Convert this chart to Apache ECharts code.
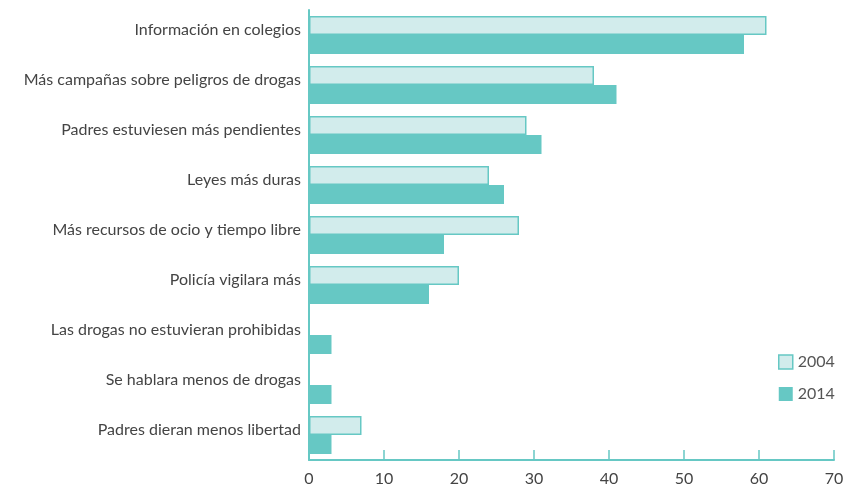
<!DOCTYPE html>
<html>
<head>
<meta charset="utf-8">
<script src="https://cdn.jsdelivr.net/npm/echarts@6/dist/echarts.min.js"></script>
<style>
  html, body { margin: 0; padding: 0; background: #fff; }
  #chart { width: 848px; height: 487px; }
</style>
</head>
<body>
<div id="chart"></div>
<script>
// categorias, de arriba a abajo
var categories = [
  "Información en colegios",
  "Más campañas sobre peligros de drogas",
  "Padres estuviesen más pendientes",
  "Leyes más duras",
  "Más recursos de ocio y tiempo libre",
  "Policía vigilara más",
  "Las drogas no estuvieran prohibidas",
  "Se hablara menos de drogas",
  "Padres dieran menos libertad"
];
var values2004 = [61, 38, 29, 24, 28, 20, 0, 0, 7];
var values2014 = [58, 41, 31, 26, 18, 16, 3, 3, 3];
var seriesNames = ["2004", "2014"];

var teal = "#66c8c4";
var lightTeal = "#d2ecec";
var font = "Lato, 'Open Sans', sans-serif";

var chart = echarts.init(document.getElementById("chart"));
chart.setOption({
  animation: false,
  textStyle: { fontFamily: font },
  grid: { left: 309, right: 14, top: 10, bottom: 27 },
  legend: {
    orient: "vertical",
    left: 773,
    top: 349,
    itemWidth: 14,
    itemHeight: 14,
    itemGap: 16,
    textStyle: { fontSize: 16, color: "#555", fontFamily: font },
    data: [
      { name: seriesNames[0], icon: "rect", itemStyle: { color: lightTeal, borderColor: teal, borderWidth: 1.5 } },
      { name: seriesNames[1], icon: "rect" }
    ]
  },
  xAxis: {
    type: "value",
    min: 0,
    max: 70,
    interval: 10,
    axisLine: { show: true, lineStyle: { color: teal, width: 2 } },
    axisTick: { show: true, inside: true, length: 10, lineStyle: { color: teal, width: 1.5 } },
    splitLine: { show: false },
    axisLabel: { color: "#444", fontSize: 16, margin: 11 }
  },
  yAxis: {
    type: "category",
    inverse: true,
    data: categories,
    axisLine: { show: true, lineStyle: { color: teal, width: 2 } },
    axisTick: { show: false },
    axisLabel: { color: "#444", fontSize: 16, margin: 8, lineHeight: 10, verticalAlign: "bottom" }
  },
  series: [
    {
      name: seriesNames[0],
      type: "bar",
      data: values2004,
      barWidth: 19,
      barGap: "0%",
      itemStyle: { color: lightTeal, borderColor: teal, borderWidth: 1.5 }
    },
    {
      name: seriesNames[1],
      type: "bar",
      data: values2014,
      barWidth: 19,
      barGap: "0%",
      itemStyle: { color: teal }
    }
  ]
});
</script>
</body>
</html>
